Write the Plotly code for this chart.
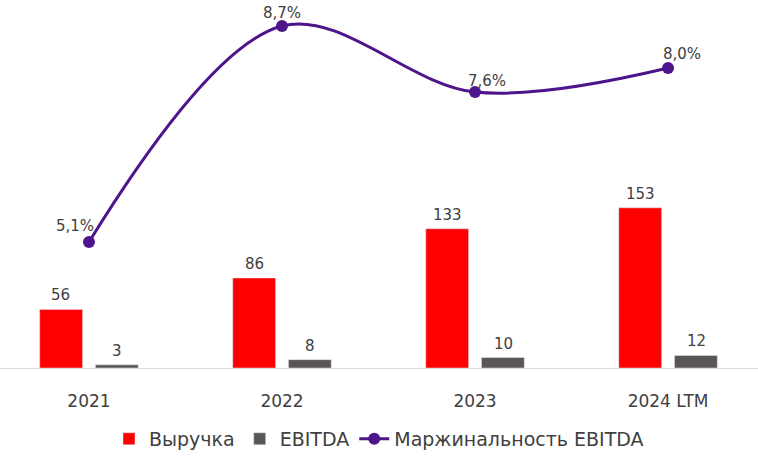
import plotly.graph_objects as go

categories = ["2021", "2022", "2023", "2024 LTM"]
revenue = [56, 86, 133, 153]
ebitda = [3, 8, 10, 12]
margin = [5.1, 8.7, 7.6, 8.0]
margin_labels = ["5,1%", "8,7%", "7,6%", "8,0%"]

RED = "#FF0000"
GRAY = "#5A5657"
PURPLE = "#4E148C"
TXT = "#404040"
FONT = "DejaVu Sans"

fig = go.Figure()
fig.add_trace(go.Bar(x=categories, y=revenue, name="Выручка", marker_color=RED))
fig.add_trace(go.Bar(x=categories, y=ebitda, name="EBITDA", marker_color=GRAY))
fig.add_trace(go.Scatter(x=categories, y=margin, name="Маржинальность EBITDA",
                         mode="lines+markers", yaxis="y2",
                         line=dict(color=PURPLE, width=3, shape="spline", smoothing=1.0),
                         marker=dict(color=PURPLE, size=12)))

annotations = []
for i, v in enumerate(revenue):
    annotations.append(dict(x=i, y=v, text=str(v), showarrow=False, xref="x", yref="y",
                            yanchor="bottom", xshift=-28, yshift=3,
                            font=dict(size=15, color=TXT, family=FONT)))
for i, v in enumerate(ebitda):
    annotations.append(dict(x=i, y=v, text=str(v), showarrow=False, xref="x", yref="y",
                            yanchor="bottom", xshift=28, yshift=3,
                            font=dict(size=15, color=TXT, family=FONT)))
shifts = [-14, 0, 12, 14]
yshifts = [5, 2, 0, 3]
for i, (v, t, s, ys) in enumerate(zip(margin, margin_labels, shifts, yshifts)):
    annotations.append(dict(x=i, y=v, text=t, showarrow=False, xref="x", yref="y2",
                            yanchor="bottom", xshift=s, yshift=ys,
                            font=dict(size=15, color=TXT, family=FONT)))

fig.update_layout(
    width=758, height=467,
    margin=dict(l=0, r=0, t=10, b=99),
    plot_bgcolor="white", paper_bgcolor="white",
    barmode="group", bargap=0.423, bargroupgap=0.23,
    font=dict(family=FONT, color=TXT, size=16),
    xaxis=dict(type="category", range=[-0.461, 3.466], showgrid=False, showline=True,
               linecolor="#D9D9D9", linewidth=1, ticks="",
               tickfont=dict(size=17, color=TXT, family=FONT), ticklabelstandoff=18),
    yaxis=dict(range=[0, 342], visible=False, showgrid=False),
    yaxis2=dict(range=[3.0, 8.967], overlaying="y", side="right", visible=False, showgrid=False),
    legend=dict(orientation="h", x=0.5, xanchor="center", y=-0.145, yanchor="top",
                font=dict(size=19, color=TXT, family=FONT), itemwidth=30, traceorder="normal"),
    annotations=annotations,
    showlegend=True,
)

fig.write_html("out.html")
